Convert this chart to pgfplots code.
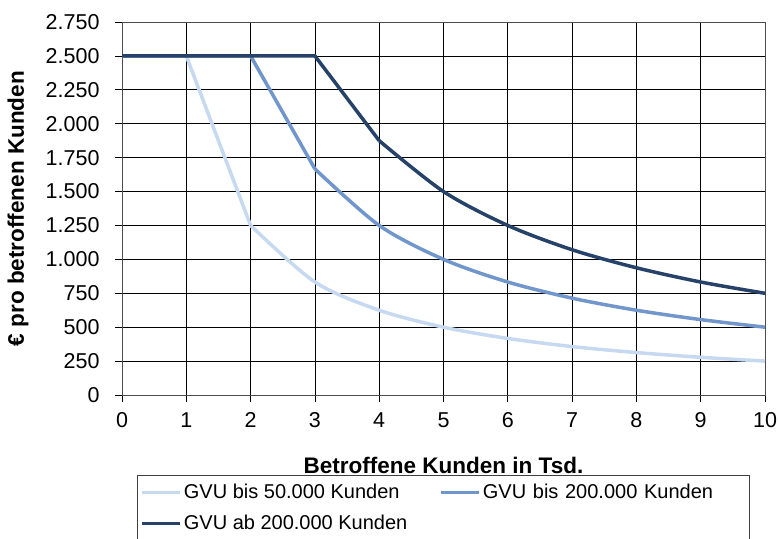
\documentclass[border=0pt]{standalone}
\usepackage{pgfplots}
\pgfplotsset{compat=1.18}
\usepackage{fontspec}
\setmainfont{Liberation Sans}
\definecolor{cLight}{RGB}{198,217,240}
\definecolor{cMid}{RGB}{112,150,204}
\definecolor{cDark}{RGB}{38,66,104}
\begin{document}
\begin{tikzpicture}
\useasboundingbox (0,0) rectangle (778pt,-538pt);
\begin{axis}[
  at={(122pt,-395pt)}, anchor=south west,
  scale only axis, width=643pt, height=373pt,
  xmin=0, xmax=10, ymin=0, ymax=2750,
  xtick={0,1,...,10}, ytick={0,250,...,2750},
  tick pos=left, tick align=outside, major tick length=7pt,
  tick style={black, line width=0.8pt},
  grid=major, grid style={black, line width=0.8pt},
  axis line style={black!70, line width=0.9pt},
  font=\fontsize{20}{24}\selectfont,
  ticklabel style={font=\fontsize{21.5}{25}\selectfont},
  /pgf/number format/.cd, assume math mode=true, fixed, 1000 sep={.}, /pgfplots/.cd,
  yticklabel style={xshift=-12pt},
  xticklabel style={yshift=-7pt},
  xlabel={\textbf{Betroffene Kunden in Tsd.}},
  ylabel={\textbf{€ pro betroffenen Kunden}},
  label style={font=\fontsize{22.5}{26}\selectfont},
  xlabel style={at={(axis description cs:0.5,-0.188)}, anchor=center},
  ylabel style={at={(axis description cs:-0.1617,0.5)}, anchor=center, rotate=0},
  legend columns=2,
  legend cell align=left,
  legend style={at={(axis description cs:0.0233,-0.2145)}, anchor=north west,
    draw=black!75, line width=0.8pt, font=\fontsize{20}{24}\selectfont,
    inner xsep=3pt, inner ysep=7pt,
    /tikz/every even column/.append style={column sep=30pt},
    /tikz/column 4/.style={/tikz/nodes={text width=262pt}},
    row sep=11pt},
  legend image code/.code={\draw[#1, line width=3.5pt] (0pt,0pt) -- (38pt,0pt);},
]
\addplot[cLight, line width=3.5pt] coordinates {
 (0,2500) (1,2500) (2,1250)};
\addlegendentry{GVU bis 50.000 Kunden}
\addplot[cMid, line width=3.5pt] coordinates {
 (0,2500) (1,2500) (2,2500) (3,1667)};
\addlegendentry{GVU bis 200.000 Kunden}
\addplot[cDark, line width=3.5pt] coordinates {
 (0,2500) (1,2500) (2,2500) (3,2500) (4,1875)};
\addlegendentry{GVU ab 200.000 Kunden}
\addplot[cLight, line width=3.5pt, smooth, tension=0.5, forget plot] coordinates {
 (2,1250) (3,833) (4,625) (5,500) (6,417) (7,357) (8,313) (9,278) (10,250)};
\addplot[cMid, line width=3.5pt, smooth, tension=0.5, forget plot] coordinates {
 (3,1667) (4,1250) (5,1000) (6,833) (7,714) (8,625) (9,556) (10,500)};
\addplot[cDark, line width=3.5pt, smooth, tension=0.5, forget plot] coordinates {
 (4,1875) (5,1500) (6,1250) (7,1071) (8,938) (9,833) (10,750)};
\end{axis}
\end{tikzpicture}
\end{document}
